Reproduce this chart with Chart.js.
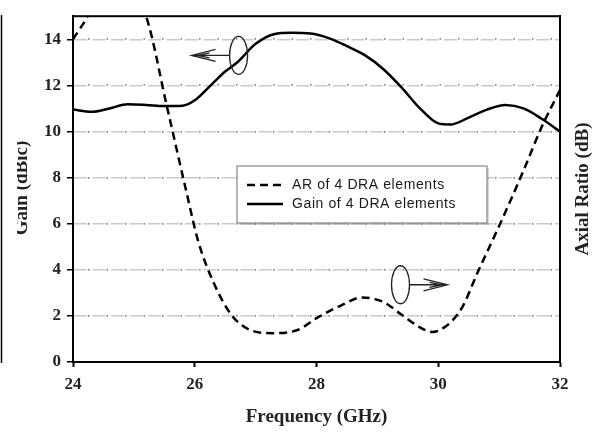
<!DOCTYPE html>
<html>
<head>
<meta charset="utf-8">
<script src="https://cdn.jsdelivr.net/npm/chart.js@4.4.1/dist/chart.umd.min.js"></script>
<style>
  html, body { margin: 0; padding: 0; background: #fff; }
  #wrap { width: 599px; height: 432px; }
</style>
</head>
<body>
<div id="wrap"><canvas id="grafico" width="599" height="432"></canvas></div>
<script>
// valores
const freqGanho = [24, 24.3, 24.6, 24.9, 25.2, 25.5, 25.8, 26.0, 26.3, 26.5, 26.7, 27.0, 27.3, 27.6, 27.9, 28.2, 28.5, 28.8, 29.1, 29.4, 29.7, 30.0, 30.2, 30.5, 30.8, 31.1, 31.4, 31.7, 32];
const ganho = [10.95, 10.85, 11.0, 11.18, 11.15, 11.1, 11.12, 11.35, 12.1, 12.6, 13.0, 13.8, 14.22, 14.28, 14.25, 14.05, 13.7, 13.3, 12.7, 11.9, 11.0, 10.35, 10.3, 10.6, 10.95, 11.15, 11.0, 10.55, 10.0];

const freqAR = [24, 24.15, 24.5, 24.9, 25.2, 25.55, 25.87, 26.05, 26.3, 26.6, 26.9, 27.3, 27.7, 28.0, 28.4, 28.75, 29.1, 29.4, 29.7, 29.9, 30.1, 30.25, 30.4, 30.65, 31.0, 31.4, 31.7, 32];
const razaoAxial = [14.0, 14.6, 16.0, 16.2, 15.0, 11.0, 7.3, 5.3, 3.5, 2.05, 1.4, 1.25, 1.4, 1.9, 2.45, 2.8, 2.6, 2.05, 1.5, 1.3, 1.5, 1.85, 2.4, 3.9, 5.9, 8.3, 10.2, 11.8];

const ticksX = [24, 26, 28, 30, 32];
const ticksY = [0, 2, 4, 6, 8, 10, 12, 14];
const rotulos = ['AR of 4 DRA elements', 'Gain of 4 DRA elements'];

const fonteEixo = { family: 'Liberation Serif', size: 17, weight: 'bold' };

function pontos(xs, ys) {
  return xs.map((x, i) => ({ x, y: ys[i] }));
}

const extras = {
  id: 'extras',
  afterDraw(chart) {
    const ctx = chart.ctx;
    const a = chart.chartArea;
    const sx = chart.scales.x, sy = chart.scales.y;
    ctx.save();

    // moldura do gráfico
    ctx.strokeStyle = '#000';
    ctx.lineWidth = 2;
    ctx.setLineDash([]);
    ctx.strokeRect(a.left, a.top, a.right - a.left, a.bottom - a.top);

    // linha cortada à esquerda
    ctx.lineWidth = 1.5;
    ctx.beginPath();
    ctx.moveTo(1.5, 15);
    ctx.lineTo(1.5, 363);
    ctx.stroke();

    // elipses e setas
    function elipse(fx, fy, dir) {
      const cx = sx.getPixelForValue(fx), cy = sy.getPixelForValue(fy);
      ctx.lineWidth = 1.3;
      ctx.strokeStyle = '#222';
      ctx.beginPath();
      ctx.ellipse(cx, cy, 9, 19, 0, 0, Math.PI * 2);
      ctx.stroke();
      const x0 = cx + dir * 9, x1 = cx + dir * 47;
      ctx.beginPath();
      ctx.moveTo(x0, cy);
      ctx.lineTo(x1, cy);
      ctx.moveTo(x1 - dir * 24, cy - 6);
      ctx.lineTo(x1, cy);
      ctx.lineTo(x1 - dir * 24, cy + 6);
      ctx.moveTo(x1 - dir * 18, cy - 2.5);
      ctx.lineTo(x1 - dir * 6, cy);
      ctx.moveTo(x1 - dir * 18, cy + 2.5);
      ctx.lineTo(x1 - dir * 6, cy);
      ctx.stroke();
    }
    elipse(26.72, 13.3, -1);
    elipse(29.38, 3.35, 1);

    // legenda
    const lx = 237, ly = 166, lw = 250, lh = 57;
    ctx.fillStyle = 'rgba(0,0,0,0.15)';
    ctx.fillRect(lx + 2, ly + 2, lw, lh);
    ctx.fillStyle = '#fff';
    ctx.fillRect(lx, ly, lw, lh);
    ctx.strokeStyle = '#888';
    ctx.lineWidth = 1.2;
    ctx.strokeRect(lx, ly, lw, lh);
    ctx.strokeStyle = '#000';
    ctx.lineWidth = 2.5;
    ctx.setLineDash([8, 5]);
    ctx.beginPath();
    ctx.moveTo(247, 185); ctx.lineTo(283, 185);
    ctx.stroke();
    ctx.setLineDash([]);
    ctx.beginPath();
    ctx.moveTo(247, 204); ctx.lineTo(283, 204);
    ctx.stroke();
    ctx.fillStyle = '#1a1a1a';
    ctx.font = '14px "Liberation Sans"';
    ctx.letterSpacing = '0.6px';
    ctx.textBaseline = 'middle';
    ctx.textAlign = 'left';
    ctx.fillText(rotulos[0], 292, 185);
    ctx.fillText(rotulos[1], 292, 204);
    ctx.letterSpacing = '0px';

    // título do eixo direito
    ctx.font = 'bold 19px "Liberation Serif"';
    ctx.fillStyle = '#222';
    ctx.textAlign = 'center';
    ctx.textBaseline = 'alphabetic';
    ctx.save();
    ctx.translate(588, 189);
    ctx.rotate(-Math.PI / 2);
    ctx.fillText('Axial Ratio (dB)', 0, 0);
    ctx.restore();

    // título do eixo esquerdo, cortado
    ctx.save();
    ctx.beginPath();
    ctx.rect(17, 0, 40, 432);
    ctx.clip();
    ctx.translate(27, 188);
    ctx.rotate(-Math.PI / 2);
    ctx.fillText('Gain (dBic)', 0, 0);
    ctx.restore();

    ctx.restore();
  }
};

new Chart(document.getElementById('grafico'), {
  type: 'line',
  data: {
    datasets: [
      {
        label: rotulos[0],
        data: pontos(freqAR, razaoAxial),
        borderColor: '#000',
        borderWidth: 2.5,
        borderDash: [8, 5],
        pointRadius: 0,
        cubicInterpolationMode: 'monotone',
        fill: false
      },
      {
        label: rotulos[1],
        data: pontos(freqGanho, ganho),
        borderColor: '#000',
        borderWidth: 2.5,
        pointRadius: 0,
        cubicInterpolationMode: 'monotone',
        fill: false
      }
    ]
  },
  options: {
    responsive: false,
    animation: false,
    layout: { padding: { top: 15, left: 0, right: 0, bottom: 0 } },
    plugins: { legend: { display: false }, tooltip: { enabled: false } },
    scales: {
      x: {
        type: 'linear',
        min: 24, max: 32,
        afterBuildTicks: s => { s.ticks = ticksX.map(v => ({ value: v })); },
        afterFit: s => { s.height = 70; },
        ticks: { font: fonteEixo, color: '#222', padding: 7, maxRotation: 0 },
        grid: { drawOnChartArea: false, tickLength: 5, tickColor: '#000', tickWidth: 2 },
        border: { color: '#000', width: 2 },
        title: {
          display: true, text: 'Frequency (GHz)',
          font: { family: 'Liberation Serif', size: 19, weight: 'bold' },
          color: '#222', padding: { top: 6 }
        }
      },
      y: {
        min: 0, max: 15,
        afterBuildTicks: s => { s.ticks = ticksY.map(v => ({ value: v })); },
        afterFit: s => { s.width = 73; },
        ticks: { font: fonteEixo, color: '#222', padding: 6 },
        grid: {
          color: c => c.tick && c.tick.value === 0 ? 'rgba(0,0,0,0)' : '#cacaca',
          lineWidth: 1.5,
          tickLength: 6,
          tickColor: '#000',
          tickBorderDash: [],
          tickWidth: 1.5
        },
        border: { color: '#000', width: 2, dash: [13, 5.5] }
      },
      y2: {
        position: 'right',
        min: 0, max: 15,
        afterBuildTicks: s => { s.ticks = ticksY.map(v => ({ value: v })); },
        afterFit: s => { s.width = 39; },
        ticks: { display: false },
        grid: {
          color: c => c.tick && c.tick.value === 0 ? 'rgba(0,0,0,0)' : '#a070b0',
          lineWidth: 1.8,
          drawTicks: false
        },
        border: { color: '#000', width: 2, dash: [1.5, 17], dashOffset: 3.5 }
      }
    }
  },
  plugins: [extras]
});
</script>
</body>
</html>
